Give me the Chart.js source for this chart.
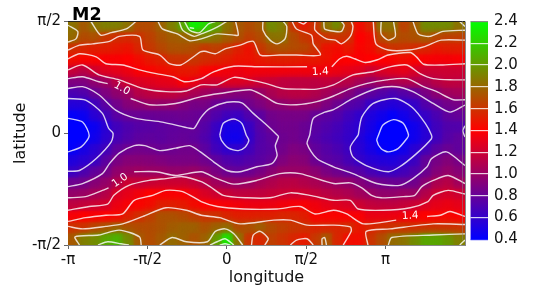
<!DOCTYPE html>
<html>
<head>
<meta charset="utf-8">
<style>
	html, body { margin: 0; padding: 0; background: #fff; }
	#wrap { position: relative; width: 538px; height: 287px; overflow: hidden; }
	canvas { position: absolute; top: 0; }
	#map { left: 0; }
	#bar { left: 462px; }
</style>
<script src="https://cdn.jsdelivr.net/npm/chart.js@4"></script>
</head>
<body>
<div id="wrap">
	<canvas id="map" width="538" height="287"></canvas>
	<canvas id="bar" width="76" height="287"></canvas>
</div>
<script>
'use strict';
// field values, top row first, in degrees of lon / lat
const heatLon = [-173.75,-161.25,-148.75,-136.25,-123.75,-111.25,-98.75,-86.25,-73.75,-61.25,-48.75,-36.25,-23.75,-11.25,1.25,13.75,26.25,38.75,51.25,63.75,76.25,88.75,101.25,113.75,126.25,138.75,151.25,163.75,176.25,188.75,201.25,213.75,226.25,238.75,251.25,263.75];
const heatLat = [85.5,76.5,67.5,58.5,49.5,40.5,31.5,22.5,13.5,4.5,-4.5,-13.5,-22.5,-31.5,-40.5,-49.5,-58.5,-67.5,-76.5,-85.5];
const heatRows = [
	[1.85,1.75,1.85,1.9,1.9,1.85,1.7,1.7,1.78,1.9,2.05,2.35,2.25,2.05,1.85,1.75,1.7,1.75,1.95,1.9,1.6,1.5,1.6,1.85,1.95,1.65,1.45,1.55,1.85,1.85,1.65,1.75,1.95,1.95,1.95,1.85],
	[1.82,1.7,1.72,1.62,1.58,1.57,1.6,1.65,1.72,1.76,1.78,1.82,1.9,1.85,1.78,1.72,1.65,1.7,1.85,1.85,1.7,1.62,1.55,1.6,1.6,1.6,1.4,1.45,1.7,1.75,1.7,1.72,1.76,1.68,1.65,1.65],
	[1.58,1.55,1.52,1.52,1.5,1.48,1.55,1.62,1.68,1.72,1.72,1.7,1.62,1.65,1.6,1.53,1.47,1.62,1.7,1.72,1.7,1.68,1.6,1.48,1.45,1.5,1.42,1.45,1.55,1.6,1.6,1.57,1.55,1.5,1.52,1.52],
	[1.45,1.42,1.42,1.38,1.38,1.4,1.45,1.5,1.53,1.6,1.6,1.62,1.58,1.55,1.52,1.48,1.47,1.5,1.52,1.53,1.52,1.5,1.5,1.47,1.42,1.4,1.38,1.4,1.4,1.42,1.45,1.42,1.38,1.37,1.37,1.38],
	[1.18,1.13,1.22,1.28,1.3,1.33,1.38,1.42,1.45,1.47,1.5,1.5,1.42,1.38,1.35,1.33,1.35,1.35,1.35,1.35,1.35,1.35,1.35,1.35,1.33,1.3,1.28,1.2,1.25,1.28,1.3,1.25,1.2,1.2,1.2,1.2],
	[.9,.9,.97,1.02,1.13,1.22,1.26,1.28,1.3,1.31,1.38,1.33,1.23,1.22,1.27,1.27,1.25,1.2,1.18,1.15,1.14,1.14,1.14,1.16,1.13,1.12,1.06,1.0,1.05,1.08,1.1,1.1,1.07,1.13,1.16,1.15],
	[.7,.72,.82,.9,.97,1.02,1.12,1.15,1.17,1.17,1.14,1.08,1.03,.98,.95,.93,.92,.99,1.07,1.12,1.14,1.14,1.1,1.05,1.0,.92,.83,.78,.74,.7,.74,.79,.88,.96,1.03,1.05],
	[.55,.55,.65,.77,.85,.93,.96,1.0,.98,.98,.92,.87,.88,.81,.78,.78,.85,.9,.96,.97,1.0,.99,.98,.9,.83,.75,.72,.62,.58,.55,.57,.61,.73,.8,.85,.87],
	[.42,.45,.57,.66,.76,.81,.81,.81,.82,.82,.83,.82,.79,.72,.66,.64,.72,.76,.85,.87,.87,.87,.8,.77,.73,.66,.6,.53,.48,.42,.48,.55,.62,.7,.78,.8],
	[.33,.38,.45,.57,.66,.71,.74,.75,.77,.78,.79,.8,.74,.63,.5,.5,.62,.75,.83,.85,.85,.82,.76,.72,.68,.62,.58,.5,.42,.35,.38,.47,.57,.66,.72,.72],
	[.32,.37,.47,.58,.68,.73,.77,.78,.77,.79,.8,.78,.72,.62,.48,.47,.6,.73,.78,.83,.85,.82,.74,.7,.66,.61,.55,.47,.4,.35,.38,.47,.56,.65,.74,.78],
	[.42,.5,.57,.66,.78,.83,.85,.84,.82,.83,.85,.85,.77,.66,.59,.6,.66,.74,.77,.85,.9,.88,.79,.74,.7,.64,.57,.5,.43,.39,.47,.57,.66,.76,.82,.78],
	[.53,.57,.62,.76,.88,.93,.93,.92,.9,.88,.88,.88,.84,.78,.72,.7,.73,.76,.8,.9,.95,.93,.82,.77,.74,.68,.61,.56,.54,.53,.57,.63,.8,.87,.92,.87],
	[.62,.7,.78,.85,.97,1.0,1.02,1.0,1.0,.98,.98,1.0,.95,.88,.82,.8,.82,.87,.94,1.0,1.0,1.0,.95,.88,.83,.78,.74,.68,.64,.62,.66,.72,.82,.92,.98,.93],
	[.83,.85,.93,.98,1.1,1.2,1.17,1.18,1.2,1.2,1.2,1.17,1.1,1.03,1.0,.98,1.0,1.05,1.09,1.12,1.13,1.1,1.07,1.03,1.0,.98,.92,.87,.84,.82,.82,.84,.95,1.08,1.12,1.03],
	[.98,1.0,1.05,1.1,1.25,1.3,1.35,1.4,1.38,1.38,1.38,1.33,1.25,1.2,1.18,1.15,1.15,1.15,1.17,1.19,1.2,1.2,1.17,1.13,1.1,1.08,1.03,1.0,.97,.97,1.0,1.0,1.1,1.2,1.23,1.2],
	[1.15,1.17,1.2,1.23,1.32,1.37,1.42,1.45,1.52,1.52,1.5,1.45,1.4,1.39,1.37,1.35,1.33,1.33,1.33,1.35,1.37,1.38,1.34,1.3,1.27,1.25,1.2,1.16,1.15,1.15,1.17,1.2,1.26,1.3,1.32,1.3],
	[1.37,1.4,1.38,1.4,1.43,1.52,1.58,1.65,1.72,1.72,1.7,1.65,1.6,1.6,1.55,1.52,1.52,1.53,1.53,1.55,1.55,1.52,1.42,1.42,1.42,1.38,1.38,1.32,1.32,1.33,1.35,1.37,1.4,1.42,1.43,1.39],
	[1.6,1.6,1.68,1.73,1.78,1.72,1.7,1.7,1.72,1.76,1.78,1.78,1.72,1.78,1.82,1.7,1.72,1.78,1.7,1.65,1.62,1.6,1.55,1.55,1.55,1.58,1.5,1.55,1.58,1.6,1.6,1.58,1.6,1.6,1.6,1.6],
	[1.75,1.9,1.95,2.05,2.1,1.95,1.75,1.7,1.75,1.82,1.78,1.72,1.78,2.0,2.3,1.85,1.6,1.55,1.65,1.6,1.55,1.5,1.62,1.75,1.55,1.45,1.45,1.6,1.7,1.82,1.85,1.95,2.05,2.05,2.0,1.9]
];

// contour lines as [lon, lat]
const c04a = [[-180,12],[-163.5,9],[-156,-2],[-165,-11],[-180,-15]];
const c04b = [[172,-1.4],[177,6.6],[189,11],[200,8],[206,-1.4],[204,-4.4],[194,-12.4],[183,-15],[175,-12.4],[170,-5.7],[172,-1.4]];
const c06a = [[-180,28],[-160,26.7],[-141,16],[-134,4],[-129,0],[-131,-7],[-148,-20.4],[-167,-30],[-180,-30.6]];
const c06b = [[-8,-1.4],[-4,8],[8,11.5],[17,8],[22,-1.4],[25,-5.7],[21,-11],[13,-14],[2,-12],[-6,-5.7],[-8,-1.4]];
const c06c = [[149,-1.4],[153,13],[166,24],[191,28],[210,21],[225,8],[232,-1.4],[232,-4.4],[215,-16.4],[196,-27],[183,-31],[158,-26],[143,-19],[140,-11],[149,-1.4]];
const c06d = [[270,6],[267.5,2],[270,-3]];
const c08a = [[-180,36],[-163.5,37.5],[-145,31],[-126,18.6],[-103,12],[-73,9],[-42,4],[-37,4],[-29,13],[-19,20],[0,25],[17,24.5],[30,16],[43,8],[57,-1.4],[58.6,-3],[55,-10],[57,-18],[51,-24.5],[34,-27],[15,-31],[0,-30],[-15,-23],[-30,-15],[-42,-10],[-58,-12],[-76,-14],[-93,-10],[-105,-10],[-122,-16],[-133,-24.5],[-141,-32.5],[-163.5,-40.5],[-180,-43]];
const c08b = [[270,22.7],[253,17],[234,24],[211,33.5],[192,37.5],[170,36],[143,28],[121,19],[111,17],[98,12],[94,-1.4],[91,-8.4],[102,-20.4],[121,-27],[143,-32.5],[170,-40.5],[196,-42],[211,-36.5],[227,-27],[232,-20.4],[249,-15],[270,-26]];
const c10a = [[-180,44],[-163.5,45.5],[-145,41.5],[-135,40]];
const c10b = [[-109,28],[-88,23],[-58,24],[-29,29.5],[-8,32],[26,35],[40,31],[57,24],[79,23],[102,25.5],[121,30],[140,36],[158,40],[181,43],[204,44],[223,37.5],[238,33.5],[257,27],[270,27]];
const c10c = [[-180,-52],[-160,-51],[-141,-46],[-134,-44]];
const c10d = [[-105,-31],[-80,-31],[-58,-34],[-29,-31],[-11,-36.5],[8,-41],[34,-38],[60,-32.5],[83,-32.5],[121,-40.5],[140,-40],[153,-44],[164,-50],[175,-52],[200,-51],[213,-50],[221,-43],[234,-38],[251,-34],[270,-40.5]];
const c12a = [[-180,51],[-163.5,55],[-145,47],[-122,43],[-95,36],[-69,33.5],[-46,34],[-29,39],[-11,39],[8,45],[26,43],[45,40],[64,36],[83,35.5],[102,35.5],[121,39],[143,47],[166,49.5],[185,53.5],[204,55],[219,48],[234,44],[257,43],[270,43]];
const c12b = [[-180,-62],[-156,-59],[-135,-57],[-128,-50],[-111,-42],[-88,-38],[-69,-36.5],[-50,-35],[-29,-39],[-19,-43],[-4,-50],[23,-52],[49,-52],[72,-48],[94,-50],[121,-54],[140,-54],[149,-61],[177,-62],[208,-60],[228,-55],[234,-50],[251,-46],[270,-49]];
const c14a = [[-180,60],[-167,64],[-148,61.5],[-137,56],[-118,55],[-99,51],[-80,48],[-61,45.5],[-48,41.5],[-29,44],[-15,49.5],[8,54],[38,53.5],[91,53.5]];
const c14b = [[119,53.5],[128,60],[136,62],[145,60],[157,57],[170,59],[183,63],[208,65],[215,61.5],[223,55.6],[245,55],[270,56]];
const c14c = [[-180,-71],[-160,-68],[-137,-66],[-118,-65],[-105,-54],[-84,-50],[-69,-46],[-50,-47],[-29,-55],[-11,-59],[19,-61],[57,-61],[83,-59],[100,-65],[121,-62],[136,-65],[155,-73],[192,-70]];
const c14d = [[227,-67],[242,-66],[253,-63],[270,-67]];
const c16a = [[-180,67],[-167,71],[-152,72],[-133,74],[-122,78],[-99,78],[-95,67],[-76,63],[-65,56],[-52,55],[-37,62],[-30,65.5],[-25,66],[-13,64],[-2,68],[15,71],[30,74],[38,63],[60,63],[79,63],[106,63],[98,72],[96,79],[79,84],[74,90]];
const c16b = [[166,90],[169,72],[183,67],[206,67],[225,70],[243,75],[270,75]];
const c16c = [[100,90],[100,83],[113,76],[123,75],[130,72],[140,78],[143,86],[141,90]];
const c16d = [[81,90],[87,88],[91,90]];
const c16e = [[-180,-75],[-163.5,-77],[-137,-75],[-118,-73],[-95,-67],[-69,-60],[-46,-62],[-29,-66],[-8,-68],[15,-73],[53,-70],[72,-70],[91,-74],[121,-74],[140,-75.4],[141,-79],[132,-90]];
const c16f = [[160,-90],[158,-79],[185,-77],[234,-73],[270,-73.5]];
const c16g = [[28,-90],[30,-82],[38,-79],[47,-85],[43,-90]];
const c16h = [[72,-90],[79,-86],[91,-85],[98,-90]];
const c16i = [[108,-90],[108,-85],[111,-84],[113,-90]];
const c18a = [[-180,87],[-169,82],[-171,76],[-180,73.5]];
const c18b = [[-154,90],[-143,79],[-131,81],[-114,84],[-103,90]];
const c18c = [[-78,90],[-73,84],[-56,80],[-42,74.5],[-29,76],[-11,80],[8,79],[13,79],[10,90]];
const c18d = [[41,90],[41,83],[49,75],[57,72],[66,76],[68,86],[64,90]];
const c18e = [[110,90],[111,84],[123,82],[130,82],[133,87],[130,90]];
const c18f = [[175,90],[175,80],[183,75],[191,78],[189,90]];
const c18g = [[211,90],[217,80],[230,78],[245,82],[270,83]];
const c18h = [[264,90],[270,86]];
const c18i = [[-167,-90],[-172,-83.4],[-145,-82],[-122,-78],[-99,-83.4],[-97,-90]];
const c18j = [[-76,-90],[-62,-84],[-46,-87.4],[-22,-87.4],[-13,-79],[-2,-77],[8,-81],[18,-90]];
const c18k = [[183,-90],[187,-84],[234,-82],[270,-81]];
const c18l = [[264,-90],[270,-86]];
const c20a = [[-54,90],[-50,83],[-37,78],[-29,80],[-15,84],[0,90]];
const c20b = [[-146,-90],[-135,-87.4],[-120,-89],[-111,-90]];
const c20c = [[-19,-90],[-11,-87.4],[-2,-85],[8,-90]];
const c22a = [[-48,90],[-42,83],[-31,81],[-21,88],[-13,90]];
const c22b = [[-8,-90],[-2,-89],[4,-90]];
const c24a = [[-42,85],[-37,84.5],[-42,85]];
const contourPaths = [c04a,c04b,c06a,c06b,c06c,c06d,c08a,c08b,c10a,c10b,c10c,c10d,c12a,c12b,c14a,c14b,c14c,c14d,c16a,c16b,c16c,c16d,c16e,c16f,c16g,c16h,c16i,c18a,c18b,c18c,c18d,c18e,c18f,c18g,c18h,c18i,c18j,c18k,c18l,c20a,c20b,c20c,c22a,c22b,c24a];

const labelText = ['1.0','1.0','1.4','1.4'];
const labelLon = [-119,-121,106,208];
const labelLat = [36,-38,49.5,-66.5];
const labelAngle = [30,-35,-3,-3];

const lonTicks = [-180,-90,0,90,180];
const lonNames = ['-π','-π/2','0','π/2','π'];
const latTicks = [-90,0,90];
const latNames = ['-π/2','0','π/2'];
const barTicks = [0.4,0.6,0.8,1.0,1.2,1.4,1.6,1.8,2.0,2.2,2.4];

const FONT = '"DejaVu Sans", sans-serif';

function colorOf(v) {
	const t = Math.min(1, Math.max(0, (v - 0.4) / 2));
	if (t < 0.5) return `rgb(${Math.round(510 * t)},0,${Math.round(255 - 510 * t)})`;
	return `rgb(${Math.round(510 - 510 * t)},${Math.round(510 * t - 255)},0)`;
}

const heatPoints = [];
const heatColors = [];
heatRows.forEach((row, i) => {
	row.forEach((v, j) => {
		heatPoints.push({ x: heatLon[j], y: heatLat[i] });
		heatColors.push(colorOf(v));
	});
});

function heatDataset(order) {
	return {
		data: heatPoints,
		order,
		pointStyle: 'rect',
		pointRadius: 8.6,
		pointBorderWidth: 0,
		pointBackgroundColor: heatColors,
		showLine: false
	};
}

const contourSets = contourPaths.map(p => ({
	data: p.map(([x, y]) => ({ x, y })),
	order: 1,
	showLine: true,
	pointRadius: 0,
	borderColor: 'rgba(255,255,255,0.8)',
	borderWidth: 1.4,
	tension: 0.25
}));

// softens the cells of the second heat layer, the first one keeps the edges filled
const blurPlugin = {
	id: 'blurHeat',
	beforeDatasetDraw(chart, args) {
		if (args.index !== 1) return;
		chart.ctx.save();
		chart.ctx.filter = 'blur(3px)';
	},
	afterDatasetDraw(chart, args) {
		if (args.index !== 1) return;
		chart.ctx.restore();
	}
};

const textPlugin = {
	id: 'mapText',
	afterDraw(chart) {
		const { ctx, chartArea: a, scales } = chart;
		ctx.save();
		ctx.strokeStyle = '#888';
		ctx.lineWidth = 1;
		ctx.beginPath();
		ctx.moveTo(a.right + 0.5, a.top);
		ctx.lineTo(a.right + 0.5, a.bottom);
		ctx.stroke();
		ctx.strokeStyle = '#222';
		ctx.beginPath();
		ctx.moveTo(a.left, a.top);
		ctx.lineTo(a.right, a.top);
		ctx.stroke();

		ctx.fillStyle = '#fff';
		ctx.font = '10.5px ' + FONT;
		ctx.textAlign = 'center';
		ctx.textBaseline = 'middle';
		labelText.forEach((t, i) => {
			ctx.save();
			ctx.translate(scales.x.getPixelForValue(labelLon[i]), scales.y.getPixelForValue(labelLat[i]));
			ctx.rotate(labelAngle[i] * Math.PI / 180);
			ctx.fillText(t, 0, 0);
			ctx.restore();
		});

		ctx.fillStyle = '#000';
		ctx.font = 'bold 17.5px ' + FONT;
		ctx.textAlign = 'left';
		ctx.textBaseline = 'alphabetic';
		ctx.fillText('M2', 72, 20);
		ctx.restore();
	}
};

new Chart(document.getElementById('map'), {
	type: 'scatter',
	data: { datasets: [heatDataset(3), heatDataset(2)].concat(contourSets) },
	plugins: [blurPlugin, textPlugin],
	options: {
		responsive: false,
		animation: false,
		events: [],
		layout: { padding: { top: 21.5, right: 73, left: 0, bottom: 0 } },
		plugins: { legend: { display: false }, tooltip: { enabled: false } },
		scales: {
			x: {
				type: 'linear',
				min: -180,
				max: 270,
				afterFit(s) { s.height = 42; },
				afterBuildTicks(s) { s.ticks = lonTicks.map(value => ({ value })); },
				border: { color: '#888', width: 1 },
				grid: { drawOnChartArea: false, tickLength: 4, tickColor: '#666' },
				ticks: {
					color: '#111',
					autoSkip: false,
					maxRotation: 0,
					padding: 2,
					font: { family: FONT, size: 15 },
					callback: v => lonNames[lonTicks.indexOf(v)]
				},
				title: { display: true, text: 'longitude', color: '#111', padding: { top: 0, bottom: 0 }, font: { family: FONT, size: 16 } }
			},
			y: {
				type: 'linear',
				min: -90,
				max: 90,
				afterFit(s) { s.width = 68; },
				afterBuildTicks(s) { s.ticks = latTicks.map(value => ({ value })); },
				border: { color: '#888', width: 1 },
				grid: { drawOnChartArea: false, tickLength: 4, tickColor: '#666' },
				ticks: {
					color: '#111',
					autoSkip: false,
					padding: 3,
					font: { family: FONT, size: 15 },
					callback: v => latNames[latTicks.indexOf(v)]
				},
				title: { display: true, text: 'latitude', color: '#111', padding: { top: 11, bottom: 0 }, font: { family: FONT, size: 16 } }
			}
		}
	}
});

new Chart(document.getElementById('bar'), {
	type: 'bar',
	data: {
		labels: ['M2'],
		datasets: [{
			data: [[barTicks[0], barTicks[barTicks.length - 1]]],
			barPercentage: 1,
			categoryPercentage: 1,
			backgroundColor(ctx) {
				const a = ctx.chart.chartArea;
				if (!a) return '#f00';
				const g = ctx.chart.ctx.createLinearGradient(0, a.bottom, 0, a.top);
				g.addColorStop(0, colorOf(0.4));
				g.addColorStop(0.5, colorOf(1.4));
				g.addColorStop(1, colorOf(2.4));
				return g;
			}
		}]
	},
	options: {
		responsive: false,
		animation: false,
		events: [],
		layout: { padding: { top: 21.5, bottom: 47.7, left: 8.5, right: 0 } },
		plugins: { legend: { display: false }, tooltip: { enabled: false } },
		scales: {
			x: { display: false },
			y: {
				position: 'right',
				min: 0.4,
				max: 2.4,
				afterFit(s) { s.width = 50; },
				afterBuildTicks(s) { s.ticks = barTicks.map(value => ({ value })); },
				border: { color: '#888', width: 1 },
				grid: {
					z: 1,
					drawTicks: false,
					lineWidth: 1.2,
					color: c => (c.tick.value <= 0.4 ? '#22f' : c.tick.value >= 2.4 ? '#888' : 'rgba(255,255,255,0.8)')
				},
				ticks: {
					color: '#111',
					padding: 6,
					font: { family: FONT, size: 15 },
					callback: v => v.toFixed(1)
				}
			}
		}
	}
});
</script>
</body>
</html>
